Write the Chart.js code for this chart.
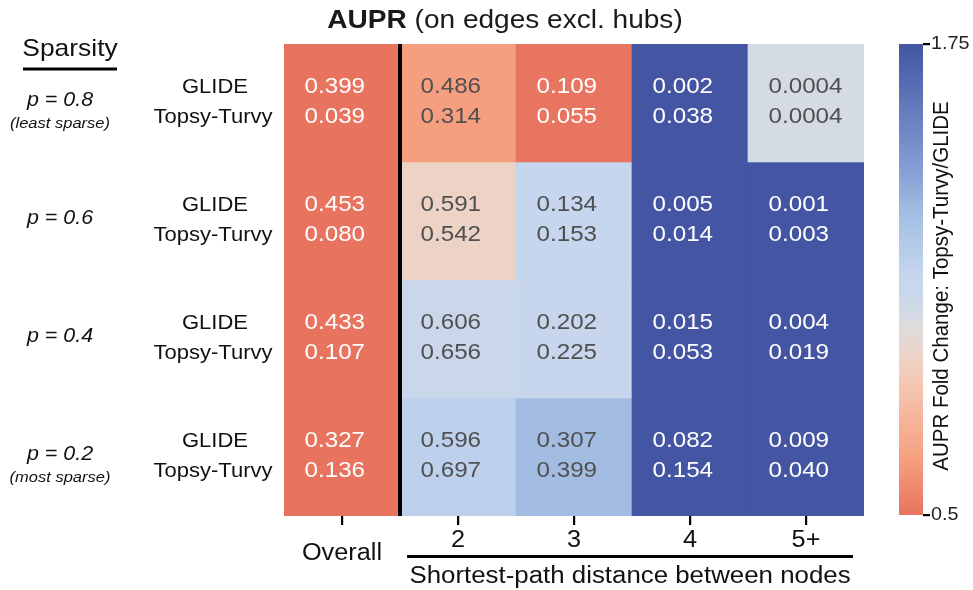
<!DOCTYPE html>
<html><head><meta charset="utf-8">
<script src="https://cdn.jsdelivr.net/npm/chart.js@4"></script>
<style>html,body{margin:0;padding:0;background:#fff}#wrap{width:973px;height:590px}</style>
</head><body><div id="wrap"><canvas id="c" width="973" height="590"></canvas></div>
<script>
// ---------- data ----------
const columns = ['Overall', '2', '3', '4', '5+'];
const sparsityLabels = ['p = 0.8', 'p = 0.6', 'p = 0.4', 'p = 0.2'];
const sparsityNotes = ['(least sparse)', '', '', '(most sparse)'];
const methodNames = ['GLIDE', 'Topsy-Turvy'];
const glideAUPR = [
  [0.399, 0.486, 0.109, 0.002, 0.0004],
  [0.453, 0.591, 0.134, 0.005, 0.001],
  [0.433, 0.606, 0.202, 0.015, 0.004],
  [0.327, 0.596, 0.307, 0.082, 0.009]
];
const topsyAUPR = [
  [0.039, 0.314, 0.055, 0.038, 0.0004],
  [0.080, 0.542, 0.153, 0.014, 0.003],
  [0.107, 0.656, 0.225, 0.053, 0.019],
  [0.136, 0.697, 0.399, 0.154, 0.040]
];
// fold change Topsy-Turvy/GLIDE (colour values)
const foldChange = [
  [0.098, 0.646, 0.505, 19.0, 1.03],
  [0.177, 0.917, 1.142, 2.80, 3.00],
  [0.247, 1.083, 1.114, 3.53, 4.75],
  [0.416, 1.169, 1.300, 1.88, 4.44]
];
const colorbarMin = 0.5;
const colorbarMax = 1.75;
const colorbarTicks = [0.5, 1.75];
const titleBold = 'AUPR';
const titleRest = ' (on edges excl. hubs)';
const xAxisTitle = 'Shortest-path distance between nodes';
const colorbarTitle = 'AUPR Fold Change: Topsy-Turvy/GLIDE';
const sparsityTitle = 'Sparsity';

// ---------- styles ----------
const cmapStops = [
  [0.50, [232, 115, 94]],
  [0.646, [245, 159, 128]],
  [0.75, [246, 180, 152]],
  [0.86, [243, 201, 182]],
  [0.92, [237, 211, 199]],
  [1.00, [221, 220, 220]],
  [1.03, [213, 219, 228]],
  [1.08, [202, 215, 235]],
  [1.14, [197, 214, 238]],
  [1.17, [190, 209, 236]],
  [1.30, [163, 189, 226]],
  [1.40, [138, 163, 215]],
  [1.50, [115, 140, 200]],
  [1.60, [95, 118, 185]],
  [1.75, [68, 86, 163]]
];
function cmapRGB(v) {
  v = Math.max(colorbarMin, Math.min(colorbarMax, v));
  for (let i = 0; i < cmapStops.length - 1; i++) {
    const [a, ca] = cmapStops[i], [b, cb] = cmapStops[i + 1];
    if (v <= b) {
      const t = (v - a) / (b - a);
      return ca.map((c, k) => Math.round(c + (cb[k] - c) * t));
    }
  }
  return cmapStops[cmapStops.length - 1][1];
}
const rgbStr = c => `rgb(${c[0]},${c[1]},${c[2]})`;
function lum(c) {
  const f = x => { x /= 255; return x <= 0.03928 ? x / 12.92 : Math.pow((x + 0.055) / 1.055, 2.4); };
  return 0.2126 * f(c[0]) + 0.7152 * f(c[1]) + 0.0722 * f(c[2]);
}
const FONT = '"Liberation Sans", Arial, Helvetica, sans-serif';
const SX = 1.1;
function txt(ctx, s, x, y, font, color, align) {
  ctx.save();
  ctx.font = font;
  ctx.fillStyle = color || '#1a1a1a';
  ctx.textAlign = align || 'center';
  ctx.textBaseline = 'middle';
  ctx.translate(x, y);
  ctx.scale(SX, 1);
  ctx.fillText(s, 0, 0);
  ctx.restore();
}
const fmt = v => v < 0.001 ? v.toFixed(4) : v.toFixed(3);

// ---------- datasets ----------
const datasets = sparsityLabels.map((lab, r) => ({
  label: lab,
  data: columns.map(() => 1),
  backgroundColor: foldChange[r].map(v => rgbStr(cmapRGB(v))),
  borderWidth: 0,
  barPercentage: 1,
  categoryPercentage: 1
}));

const decor = {
  id: 'decor',
  afterDatasetsDraw(chart) {
    const ctx = chart.ctx, xs = chart.scales.x, ys = chart.scales.y, ca = chart.chartArea;
    const colW = xs.getPixelForValue(1) - xs.getPixelForValue(0);
    // cell annotations
    for (let r = 0; r < sparsityLabels.length; r++) {
      const yc = (ys.getPixelForValue(r) + ys.getPixelForValue(r + 1)) / 2;
      for (let c = 0; c < columns.length; c++) {
        const rgb = cmapRGB(foldChange[r][c]);
        const col = lum(rgb) > 0.408 ? '#505050' : '#ffffff';
        const xl = xs.getPixelForValue(c) - colW / 2 + 20.5;
        txt(ctx, fmt(glideAUPR[r][c]), xl, yc - 16, '22px ' + FONT, col, 'left');
        txt(ctx, fmt(topsyAUPR[r][c]), xl, yc + 14, '22px ' + FONT, col, 'left');
      }
      // method labels
      txt(ctx, methodNames[0], 215, yc - 16, '20px ' + FONT, '#111');
      txt(ctx, methodNames[1], 213, yc + 14, '20px ' + FONT, '#111');
      // sparsity labels
      txt(ctx, sparsityLabels[r], 60, yc - 2, 'italic 19.5px ' + FONT, '#111');
      if (sparsityNotes[r]) txt(ctx, sparsityNotes[r], 60, yc + 21, 'italic 15px ' + FONT, '#111');
    }
    // vertical separator
    const xsep = (xs.getPixelForValue(0) + xs.getPixelForValue(1)) / 2;
    ctx.save();
    ctx.fillStyle = '#000';
    ctx.fillRect(xsep - 2, ca.top, 4, ca.bottom - ca.top);
    // x ticks
    for (let c = 0; c < columns.length; c++) {
      const x = xs.getPixelForValue(c);
      ctx.fillRect(Math.round(x) - 1, ca.bottom, 2.2, 9);
    }
    ctx.restore();
    // x tick labels
    for (let c = 0; c < columns.length; c++) {
      const x = xs.getPixelForValue(c);
      if (c === 0) txt(ctx, columns[c], x, ca.bottom + 38, '23px ' + FONT, '#111');
      else txt(ctx, columns[c], x, ca.bottom + 25, '23px ' + FONT, '#111');
    }
    // bracket line under distance columns
    ctx.save();
    ctx.fillStyle = '#000';
    const lx0 = xs.getPixelForValue(1) - colW / 2 + 7, lx1 = xs.getPixelForValue(4) + colW / 2 - 11;
    ctx.fillRect(lx0, ca.bottom + 39, lx1 - lx0, 3);
    ctx.restore();
    txt(ctx, xAxisTitle, (lx0 + lx1) / 2, ca.bottom + 61, '23.5px ' + FONT, '#111');
    // title
    ctx.save();
    ctx.font = 'bold 25.5px ' + FONT;
    const wb = ctx.measureText(titleBold).width * SX;
    ctx.font = '25.5px ' + FONT;
    const wr = ctx.measureText(titleRest).width * SX;
    ctx.restore();
    const tx0 = 505 - (wb + wr) / 2;
    txt(ctx, titleBold, tx0, 21, 'bold 25.5px ' + FONT, '#1a1a1a', 'left');
    txt(ctx, titleRest, tx0 + wb, 21, '25.5px ' + FONT, '#1a1a1a', 'left');
    // sparsity header
    txt(ctx, sparsityTitle, 70, 49, '24px ' + FONT, '#111');
    ctx.save();
    ctx.fillStyle = '#000';
    ctx.fillRect(23, 67.5, 94, 3);
    ctx.restore();
    // colorbar
    const cbL = 899, cbR = 923, cbT = ca.top, cbB = ca.bottom - 1;
    const cbY = v => cbB - (v - colorbarMin) / (colorbarMax - colorbarMin) * (cbB - cbT);
    const g = ctx.createLinearGradient(0, cbB, 0, cbT);
    for (let i = 0; i <= 100; i++) {
      const v = colorbarMin + (colorbarMax - colorbarMin) * i / 100;
      g.addColorStop(i / 100, rgbStr(cmapRGB(v)));
    }
    ctx.save();
    ctx.fillStyle = g;
    ctx.fillRect(cbL, cbT, cbR - cbL, cbB - cbT);
    ctx.fillStyle = '#000';
    colorbarTicks.forEach(v => {
      const y = cbY(v);
      ctx.fillRect(cbR, y - 1, 7, 2.2);
      txt(ctx, String(v), cbR + 8, y, '18px ' + FONT, '#222', 'left');
    });
    ctx.restore();
    // colorbar title
    ctx.save();
    ctx.translate(942, 286);
    ctx.rotate(-Math.PI / 2);
    ctx.scale(1, SX);
    ctx.font = '20.5px ' + FONT;
    ctx.fillStyle = '#111';
    ctx.textAlign = 'center';
    ctx.textBaseline = 'middle';
    ctx.fillText(colorbarTitle, 0, 0);
    ctx.restore();
  }
};

new Chart(document.getElementById('c'), {
  type: 'bar',
  data: { labels: columns, datasets },
  options: {
    responsive: false,
    devicePixelRatio: 1,
    animation: false,
    events: [],
    layout: { padding: { left: 284, right: 109, top: 44, bottom: 74 } },
    plugins: { legend: { display: false }, tooltip: { enabled: false }, title: { display: false } },
    scales: {
      x: { type: 'category', stacked: true, display: false },
      y: { type: 'linear', stacked: true, display: false, min: 0, max: 4, reverse: true }
    }
  },
  plugins: [decor]
});
</script>
</body></html>
